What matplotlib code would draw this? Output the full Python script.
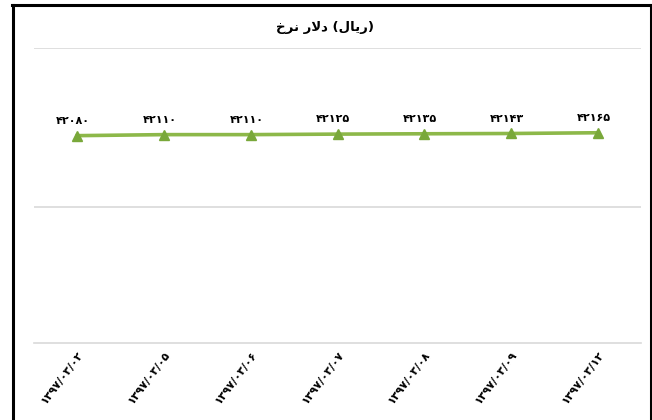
import matplotlib
matplotlib.use("Agg")
import matplotlib.pyplot as plt
from matplotlib.lines import Line2D

# Data
dates = ["۱۳۹۷/۰۳/۰۲", "۱۳۹۷/۰۳/۰۵", "۱۳۹۷/۰۳/۰۶", "۱۳۹۷/۰۳/۰۷",
         "۱۳۹۷/۰۳/۰۸", "۱۳۹۷/۰۳/۰۹", "۱۳۹۷/۰۳/۱۲"]
values = [42080, 42110, 42110, 42125, 42135, 42143, 42165]
# Title "نرخ دلار (ریال)" pre-shaped into presentation forms, visual order
title = "\uFEA5\uFEAE\uFEE7 \uFEAD\uFEFB\uFEA9 (\uFEDD\uFE8E\uFEF3\uFEAD)"

PERSIAN = str.maketrans("0123456789", "۰۱۲۳۴۵۶۷۸۹")

W, H = 652, 420
fig = plt.figure(figsize=(W / 100, H / 100), dpi=100)
fig.patch.set_facecolor("white")

ax = fig.add_axes([34 / W, (H - 343) / H, 607 / W, 295 / H])
x = list(range(len(values)))
ax.plot(x, values, color="#8DB849", lw=2.6, marker="^", markersize=7,
        markerfacecolor="#79A83A", markeredgecolor="#79A83A", zorder=3)

ax.set_xlim(-0.5, len(values) - 0.5)
ax.set_ylim(36000, 44650)
ax.set_yticks([40000, 44650])
ax.yaxis.grid(True, color="#D9D9D9", lw=1.2)
ax.set_axisbelow(True)
ax.tick_params(axis="y", left=False, labelleft=False)
ax.tick_params(axis="x", length=0, pad=5)
for s in ["top", "right", "left"]:
    ax.spines[s].set_visible(False)
ax.spines["bottom"].set_color("#D9D9D9")
ax.spines["bottom"].set_linewidth(1.2)

ax.set_xticks(x)
ax.set_xticklabels(dates, rotation=53, ha="right", va="top",
                   rotation_mode="anchor", fontsize=8, fontweight="bold",
                   family="DejaVu Sans")

for xi, v in zip(x, values):
    ax.annotate(str(v).translate(PERSIAN), (xi, v), xytext=(-3, 7),
                textcoords="offset points", ha="center", va="bottom",
                fontsize=8, fontweight="bold", family="DejaVu Sans")

fig.text(325 / W, 1 - 28 / H, title, ha="center", va="center",
         fontsize=9.5, fontweight="bold", family="DejaVu Sans")

# outer border
lw = 2.2
fig.add_artist(Line2D([12 / W, 651 / W], [1 - 4.5 / H, 1 - 4.5 / H],
                      color="black", lw=lw, transform=fig.transFigure))
fig.add_artist(Line2D([13 / W, 13 / W], [0, 1 - 4.5 / H],
                      color="black", lw=lw, transform=fig.transFigure))
fig.add_artist(Line2D([650.5 / W, 650.5 / W], [0, 1 - 4.5 / H],
                      color="black", lw=lw, transform=fig.transFigure))

fig.savefig("out.png", dpi=100)
